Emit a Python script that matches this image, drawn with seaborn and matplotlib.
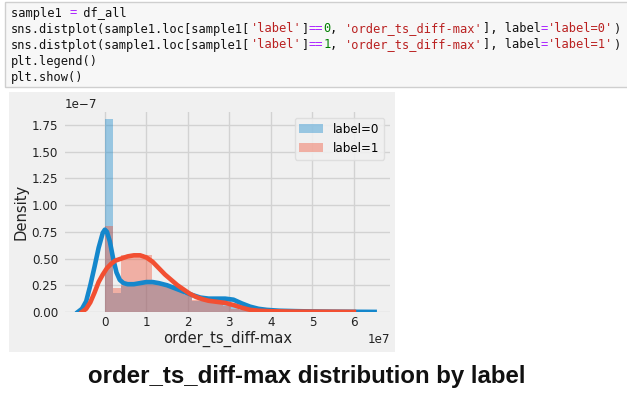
import numpy as np
import pandas as pd
import matplotlib
matplotlib.use("Agg")
import matplotlib.pyplot as plt
from matplotlib.patches import Rectangle
import seaborn as sns

# ---------------- data (x in 1e7 units, density in 1e-7 units) ----------------
bin_width = 0.19
hist0_heights = [1.80, 0.18, 0.24, 0.25, 0.26, 0.27, 0.28, 0.27, 0.25, 0.22, 0.19,
                 0.10, 0.12, 0.12, 0.12, 0.11, 0.08, 0.05, 0.03, 0.02, 0.015, 0.012,
                 0.01, 0.008, 0.006, 0.005, 0.004, 0.003, 0.003, 0.002, 0.002, 0.001,
                 0.001, 0.001]
hist1_heights = [0.80, 0.22, 0.53, 0.53, 0.54, 0.53, 0.28, 0.27, 0.24, 0.20, 0.16,
                 0.11, 0.10, 0.09, 0.08, 0.06, 0.03, 0.02, 0.01, 0.008, 0.006, 0.005,
                 0.004, 0.003, 0.003, 0.002, 0.002, 0.002, 0.001, 0.001, 0.001, 0.001]

kde0_x = [-0.65, -0.55, -0.45, -0.35, -0.25, -0.15, -0.05, 0.0, 0.05, 0.12, 0.2, 0.28,
          0.36, 0.45, 0.55, 0.7, 0.85, 1.0, 1.15, 1.3, 1.5, 1.7, 1.9, 2.1, 2.3, 2.5,
          2.7, 2.9, 3.1, 3.3, 3.5, 3.7, 3.9, 4.2, 4.6, 5.0, 5.5, 6.0, 6.5]
kde0_y = [0.0, 0.03, 0.10, 0.25, 0.42, 0.60, 0.74, 0.77, 0.75, 0.66, 0.50, 0.37,
          0.30, 0.27, 0.26, 0.26, 0.27, 0.28, 0.28, 0.27, 0.25, 0.22, 0.19, 0.16,
          0.135, 0.125, 0.125, 0.125, 0.115, 0.08, 0.05, 0.03, 0.02, 0.012, 0.008,
          0.005, 0.003, 0.002, 0.001]

kde1_x = [-0.55, -0.45, -0.35, -0.25, -0.15, -0.05, 0.05, 0.15, 0.25, 0.4, 0.55, 0.7,
          0.85, 1.0, 1.15, 1.3, 1.45, 1.6, 1.75, 1.9, 2.05, 2.2, 2.35, 2.5, 2.7, 2.9,
          3.1, 3.3, 3.5, 3.7, 4.0, 4.5, 5.0, 5.5, 6.0]
kde1_y = [0.0, 0.03, 0.09, 0.18, 0.28, 0.35, 0.41, 0.45, 0.48, 0.50, 0.52, 0.53,
          0.53, 0.51, 0.47, 0.41, 0.35, 0.30, 0.25, 0.21, 0.17, 0.14, 0.12, 0.105,
          0.095, 0.085, 0.065, 0.04, 0.02, 0.012, 0.007, 0.004, 0.003, 0.002, 0.001]

labels = ["label=0", "label=1"]
colors = ["#1487cc", "#f24f32"]
xticks = [0, 1, 2, 3, 4, 5, 6]
yticks = [0.0, 0.25, 0.5, 0.75, 1.0, 1.25, 1.5, 1.75]
xlabel = "order_ts_diff-max"
ylabel = "Density"
caption = "order_ts_diff-max distribution by label"

code_lines = [
    [("sample1 ", "k"), ("=", "op"), (" df_all", "k")],
    [("sns.distplot(sample1.loc[sample1[", "k"), ("'label'", "s"), ("]", "k"),
     ("==", "op"), ("0", "n"), (", ", "k"), ("'order_ts_diff-max'", "s"),
     ("], label", "k"), ("=", "op"), ("'label=0'", "s"), (")", "k")],
    [("sns.distplot(sample1.loc[sample1[", "k"), ("'label'", "s"), ("]", "k"),
     ("==", "op"), ("1", "n"), (", ", "k"), ("'order_ts_diff-max'", "s"),
     ("], label", "k"), ("=", "op"), ("'label=1'", "s"), (")", "k")],
    [("plt.legend()", "k")],
    [("plt.show()", "k")],
]
token_colors = {"k": "#111111", "op": "#aa22ff", "s": "#ba2121", "n": "#008000"}

# ---------------- figure ----------------
W, H = 627, 398
fig = plt.figure(figsize=(W / 100, H / 100), dpi=100, facecolor="white")

def fx(px):
    return px / W

def fy(py):
    return 1 - py / H

# code cell box
fig.patches.append(Rectangle((fx(5), fy(87)), fx(640) - fx(5), fy(2) - fy(87),
                             transform=fig.transFigure, facecolor="#f7f7f7",
                             edgecolor="#cfcfcf", linewidth=1, zorder=-2))
char_w = 7.26
code_fs = char_w / (0.6021 * 100 / 72)
line_y = [13, 29, 45, 61, 77]
for ly, tokens in zip(line_y, code_lines):
    n = 0
    for txt, kind in tokens:
        fig.text(fx(11 + n * char_w), fy(ly), txt, family="DejaVu Sans Mono",
                 fontsize=code_fs, color=token_colors[kind], va="center", ha="left")
        n += len(txt)

# chart image background
fig.patches.append(Rectangle((fx(9), fy(352)), fx(395) - fx(9), fy(92) - fy(352),
                             transform=fig.transFigure, facecolor="#f0f0f0",
                             edgecolor="none", zorder=-2))

ax = fig.add_axes([fx(65), fy(312), fx(390) - fx(65), fy(112) - fy(312)])
ax.set_zorder(1)
ax.set_facecolor("#f0f0f0")
ax.set_axisbelow(True)
ax.grid(True, color="#d2d2d2", linewidth=1)
for s in ax.spines.values():
    s.set_visible(False)

edges0 = np.arange(len(hist0_heights) + 1) * bin_width * 1e7
edges1 = np.arange(len(hist1_heights) + 1) * bin_width * 1e7
df0 = pd.DataFrame({"x": (edges0[:-1] + edges0[1:]) / 2,
                    "w": np.array(hist0_heights) * 1e-7})
df1 = pd.DataFrame({"x": (edges1[:-1] + edges1[1:]) / 2,
                    "w": np.array(hist1_heights) * 1e-7})
k0 = pd.DataFrame({"x": np.array(kde0_x) * 1e7, "y": np.array(kde0_y) * 1e-7})
k1 = pd.DataFrame({"x": np.array(kde1_x) * 1e7, "y": np.array(kde1_y) * 1e-7})

sns.histplot(data=df0, x="x", weights="w", bins=list(edges0), stat="count",
             color=colors[0], alpha=0.4, linewidth=0, label=labels[0], ax=ax)
sns.lineplot(data=k0, x="x", y="y", color=colors[0], linewidth=3.3, ax=ax)
sns.histplot(data=df1, x="x", weights="w", bins=list(edges1), stat="count",
             color=colors[1], alpha=0.4, linewidth=0, label=labels[1], ax=ax)
sns.lineplot(data=k1, x="x", y="y", color=colors[1], linewidth=3.3, ax=ax)

ax.set_xlim(-0.96e7, 6.87e7)
ax.set_ylim(0, 1.87e-7)
ax.set_xticks(np.array(xticks) * 1e7)
ax.set_yticks(np.array(yticks) * 1e-7)
ax.tick_params(axis="x", length=0, labelsize=8.6, labelcolor="#222222", pad=3)
ax.tick_params(axis="y", length=0, labelsize=8.6, labelcolor="#222222", pad=5)
ax.xaxis.get_offset_text().set_fontsize(8.6)
ax.yaxis.get_offset_text().set_fontsize(8.6)
ax.set_xlabel(xlabel, fontsize=10.6, color="#222222", labelpad=1)
ax.set_ylabel(ylabel, fontsize=10.6, color="#222222", labelpad=2)

leg = ax.legend(loc="upper right", fontsize=8.6, frameon=True, facecolor="#f0f0f0",
                edgecolor="#dcdcdc", framealpha=0.9)

fig.text(fx(307), fy(376), caption, family="Liberation Sans", fontweight="bold",
         fontsize=17.3, ha="center", va="center", color="#111111")

fig.savefig("out.png", dpi=100, facecolor="white")
